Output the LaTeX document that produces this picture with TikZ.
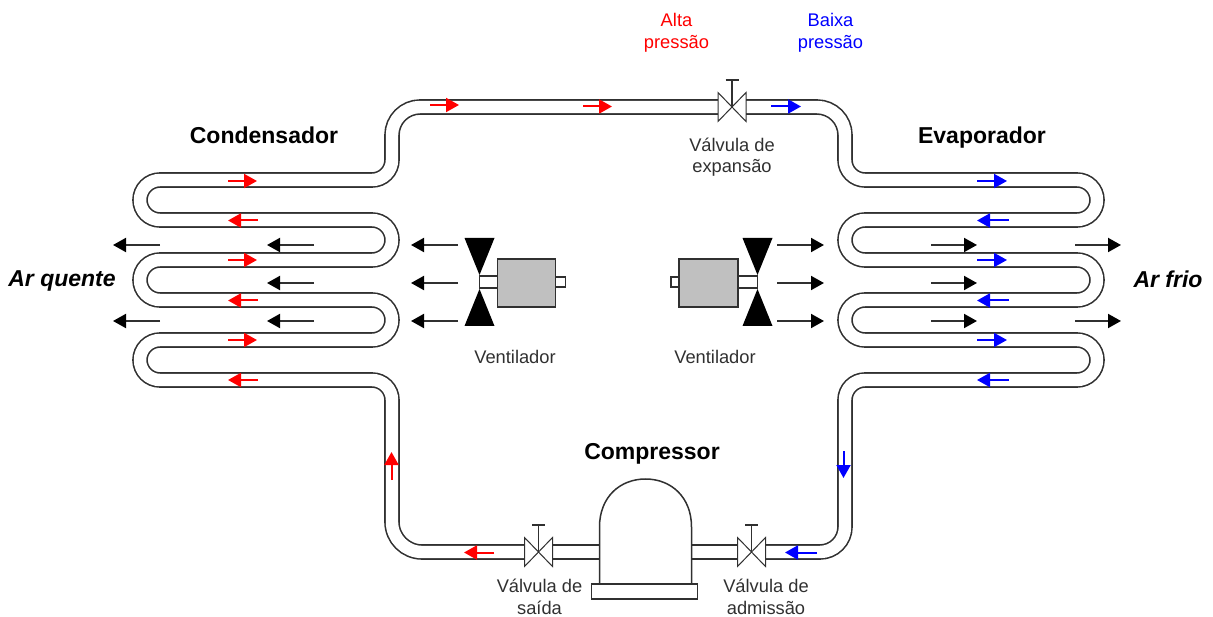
\documentclass[tikz,border=0pt]{standalone}
\usepackage{fontspec}
\setmainfont{Liberation Sans}
\usetikzlibrary{arrows.meta}
\definecolor{motorgray}{HTML}{C0C0C0}
\definecolor{ink}{HTML}{303030}
\tikzset{
  x=1pt,y=-1pt,
  pipe/.style={draw=ink,line width=1.6pt,double=white,double distance=12.4pt},
  coil/.style={pipe,rounded corners=20pt},
  flow/.style={line width=2pt,-{Triangle[length=13pt,width=14pt]}},
  redflow/.style={flow,red},
  blueflow/.style={flow,blue},
  airflow/.style={flow,ink,-{Triangle[length=13pt,width=14pt,black]}},
  label/.style={font=\fontsize{18.3}{21.5}\selectfont,text=ink,align=center,inner sep=0pt},
  title/.style={font=\fontsize{23}{26}\selectfont\bfseries,text=black,inner sep=0pt,anchor=base},
  side/.style={font=\fontsize{23}{26}\selectfont\bfseries\itshape,text=black,inner sep=0pt,anchor=base},
  valve/.pic={
    \fill[white] (-14,-14.5) rectangle (14,14.5);
    \draw[ink,line width=1pt] (-14,-14.5)--(14,14.5)--(14,-14.5)--(-14,14.5)--cycle;
    \draw[ink,line width=1.4pt] (0,0)--(0,-27);
    \draw[ink,line width=1.4pt] (-6.5,-27)--(6.5,-27);
  },
  bladeset/.pic={
    \fill[black] (-15,-44)--(15,-44)--(0,-7)--cycle;
    \fill[black] (-15,44)--(15,44)--(0,7)--cycle;
  }
}
\begin{document}
\begin{tikzpicture}
\useasboundingbox (0,0) rectangle (1213,617);
% fixed points
\coordinate (vexp) at (732,107);
\coordinate (vout) at (538.5,552);
\coordinate (vin) at (751.5,552);
\coordinate (cl) at (599,552);
\coordinate (cr) at (692,552);
\coordinate (cia) at (392,135);
\coordinate (cib) at (392,522);
\coordinate (eia) at (845,135);
\coordinate (eib) at (845,527);
% pipes
\draw[coil] (cia)--(392,180)--(140,180)--(140,220)--(392,220)--(392,260)--(140,260)--(140,300)--(392,300)--(392,340)--(140,340)--(140,380)--(392,380)--(cib);
\draw[coil] (eia)--(845,180)--(1097,180)--(1097,220)--(845,220)--(845,260)--(1097,260)--(1097,300)--(845,300)--(845,340)--(1097,340)--(1097,380)--(845,380)--(eib);
\draw[pipe] (vexp)--(420,107) .. controls (404.6,107) and (392,119.6) .. (cia)--(392,137);
\draw[pipe] (392,520)--(cib) .. controls (392,538.5) and (405.5,552) .. (422,552)--(vout);
\draw[pipe] (vexp)--(817,107) .. controls (832.4,107) and (845,119.6) .. (eia)--(845,137);
\draw[pipe] (845,525)--(eib) .. controls (845,540.75) and (833.75,552) .. (820,552)--(vin);
\draw[pipe] (vout)--(cl);
\draw[pipe] (vin)--(cr);
% valves
\pic at (vexp) {valve};
\pic at (vout) {valve};
\pic at (vin) {valve};
% compressor
\draw[ink,line width=1.5pt,fill=white] (599.5,584)--(599.5,527) .. controls (599.5,497) and (620,479) .. (645.5,479) .. controls (671,479) and (691.5,497) .. (691.5,527)--(691.5,584)--cycle;
\draw[ink,line width=1.5pt,fill=white] (591.5,584) rectangle (697.5,599);
% left fan
\coordinate (fanl) at (479.5,282);
\coordinate (fanr) at (757.5,282);
\draw[ink,line width=1.5pt,fill=white] (fanl)++(0,-6) rectangle (497.5,288);
\draw[ink,line width=1.5pt,fill=motorgray] (497.5,259) rectangle (555.5,307);
\draw[ink,line width=1.5pt,fill=white] (555.5,277) rectangle (565.5,287);
\pic at (fanl) {bladeset};
% right fan
\draw[ink,line width=1.5pt,fill=white] (fanr)++(0,-6) rectangle (738,288);
\draw[ink,line width=1.5pt,fill=motorgray] (679,259) rectangle (738,307);
\draw[ink,line width=1.5pt,fill=white] (671,277) rectangle (679,287);
\pic at (fanr) {bladeset};
% air arrows, left
\foreach \y in {245,321} \draw[airflow] (160,\y)--(113,\y);
\foreach \y in {245,283,321} {
  \draw[airflow] (314,\y)--(267,\y);
  \draw[airflow] (458,\y)--(411,\y);
  \draw[airflow] (777,\y)--(824,\y);
  \draw[airflow] (931,\y)--(977,\y);
}
\foreach \y in {245,321} \draw[airflow] (1075,\y)--(1121,\y);
% flow arrows
\foreach \y in {181,260,340} {
  \draw[redflow] (228,\y)--(257,\y);
  \draw[blueflow] (977,\y)--(1007,\y);
}
\foreach \y in {220.5,300.5,380} {
  \draw[redflow] (258,\y)--(228,\y);
  \draw[blueflow] (1009,\y)--(977,\y);
}
\draw[redflow] (430,105)--(459,105);
\draw[redflow] (583,106.5)--(612,106.5);
\draw[blueflow] (771,106.5)--(801,106.5);
\draw[redflow] (391.5,480)--(391.5,452);
\draw[blueflow] (843.5,451)--(843.5,478);
\draw[redflow] (494,552.5)--(464,552.5);
\draw[blueflow] (817,552.5)--(785,552.5);
% labels
\node[label,text=red] (alta) at (676.5,33) {Alta\\pressão};
\node[label,text=blue] (baixa) at (830.5,33) {Baixa\\pressão};
\node[title] (cond) at (264,143.5) {Condensador};
\node[title] (evap) at (982,143.5) {Evaporador};
\node[title] (comp) at (652,459) {Compressor};
\node[side] (quente) at (62,287) {Ar quente};
\node[side] (frio) at (1168,288) {Ar frio};
\node[label] (vent1) at (515,357) {Ventilador};
\node[label] (vent2) at (715,357) {Ventilador};
\node[label] (lexp) at (732,157) {Válvula de\\expansão};
\node[label] (lout) at (539.5,597) {Válvula de\\saída};
\node[label] (lin) at (766,597) {Válvula de\\admissão};
\end{tikzpicture}
\end{document}
